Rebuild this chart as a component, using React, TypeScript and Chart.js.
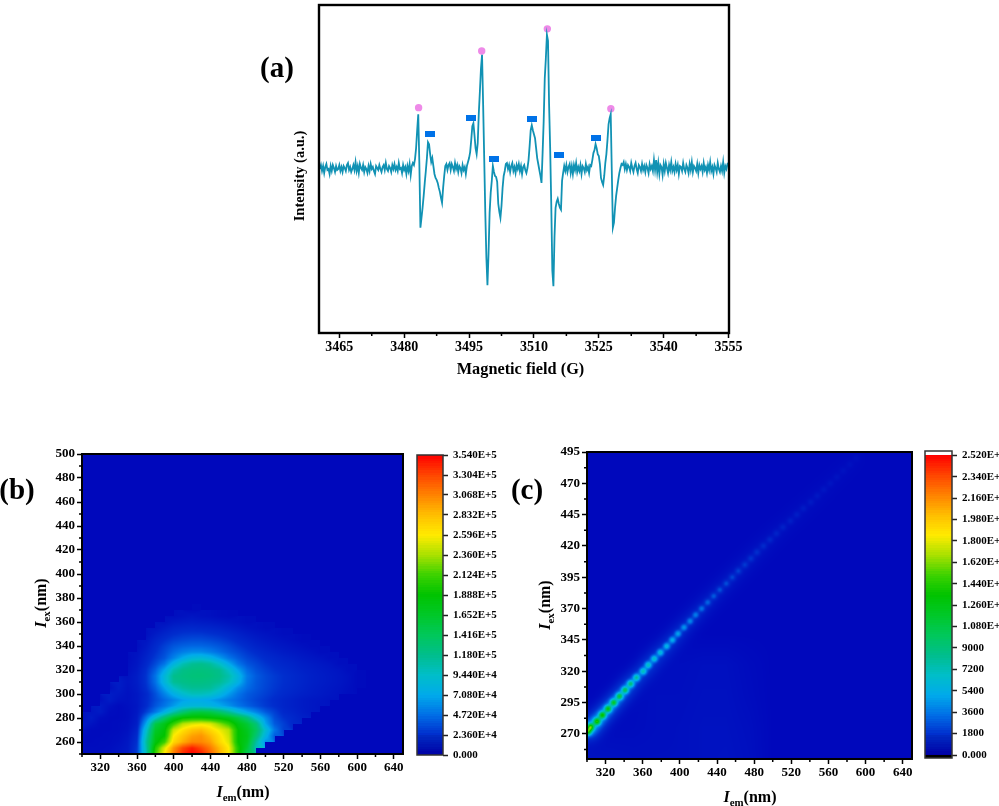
import React, { useEffect, useRef } from "react";
import { Chart, registerables } from "chart.js";

Chart.register(...registerables);

const SERIF = '"Liberation Serif", "Times New Roman", serif';

/* ---------- panel (a): EPR spectrum ---------- */
const fieldStart = 3460.5;
const fieldStep = 0.25;
const intensity = [
  -1, 3, -3, 2, -5, 1, 4, -2, -1, -6,
  2, -3, 3, 0, -4, 2, -2, -1, 3, -3,
  1, -4, 2, 0, -3, 3, 5, -2, 1, -4,
  -1, 3, -2, 6, -3, 2, -5, 4, 0, -2,
  3, -4, 1, -1, -5, 2, -3, 4, -1, 1,
  -3, -6, 2, 0, -2, 3, -1, -4, 1, 3,
  -2, 5, -1, -3, 2, 0, -4, 3, -1, 4,
  -2, 1, -3, 5, -1, 0, -5, 3, -2, 1,
  -6, 2, -3, 4, -7, 2, 5, 3, 9, 20,
  38, 54, 5, -60, -50, -40, -28, -15, -3, 10,
  26, 24, 14, 6, 10, 2, -6, -10, -12, -15,
  -20, -24, -30, -35, -20, -8, 2, 4, -2, 3,
  5, -2, 4, 1, -3, 5, -1, 3, -4, 2,
  0, -5, 3, -2, 1, -6, 2, 6, 10, 16,
  28, 42, 45, 33, 20, 14, 25, 55, 77, 100,
  114, 64, 10, -45, -90, -118, -86, -45, -25, -13,
  2, -4, -8, -9, -14, -36, -44, -50, -38, -20,
  -8, -3, 4, 5, -1, 3, -4, 2, 5, -3,
  1, -5, 3, -1, 4, -3, 2, -6, 1, 3,
  -2, -5, 0, 8, 22, 38, 43, 38, 34, 30,
  20, 10, 4, -2, -8, -15, 15, 47, 90, 110,
  134, 128, 64, 20, -36, -103, -119, -70, -40, -34,
  -31, -36, -40, -42, -13, -5, 2, -3, 3, -4,
  1, 4, -5, 2, -6, 3, -2, 5, -4, 1,
  -3, 3, -6, 2, 0, -4, 4, -2, 1, -5,
  3, 2, 8, 15, 18, 24, 20, 14, 12, 4,
  -10, -14, -17, -8, 5, 14, 28, 44, 50, 54,
  -3, -60, -55, -40, -28, -20, -12, -5, 0, 4,
  3, 6, -1, 4, -2, 3, 1, -3, 5, 0,
  -4, 2, 5, -1, -5, 3, 1, -3, 4, -2,
  2, -4, 3, 0, -5, 4, -1, 2, -3, 8,
  -2, 8, -4, 5, -6, 3, 1, -7, 4, -3,
  5, 0, -5, 3, -2, 6, -3, 1, -4, 4,
  -2, 3, -6, 2, 1, -3, 5, -1, -4, 3,
  0, -5, 4, -2, 6, -4, 2, 0, -3, 4,
  -5, 3, -1, 2, -4, 5, -2, 1, -5, 3,
  -2, 6, -3, 1, -6, 3, 0, -4, 5, -1,
  -4, 2, -3, 6, -5, 2, -1, 4, 5,
];
const circleField = [3483.33, 3497.92, 3513.1, 3527.78];
const circleIntensity = [60.7, 117.7, 140, 59.7];
const squareField = [3485.95, 3495.5, 3500.69, 3509.63, 3515.81, 3524.3];
const squareIntensity = [34.3, 50.3, 8.7, 49, 13.3, 29.7];
const fieldTicks = [3465, 3480, 3495, 3510, 3525, 3540, 3555];
const fieldMinor = [3472.5, 3487.5, 3502.5, 3517.5, 3532.5, 3547.5];

/* ---------- panel (b): excitation-emission map, values in 1E+4 ---------- */
const bEm = [300, 310, 320, 330, 340, 350, 360, 370, 380, 390, 400, 410, 420, 430, 440, 450, 460, 470, 480, 490, 500, 510, 520, 530, 540, 550, 560, 570, 580, 590, 600];
const bEx = [250, 255, 260, 265, 270, 275, 280, 285, 290, 295, 300, 305, 310, 315, 320, 325, 330, 335, 340, 345, 350, 355, 360, 365, 370];
const bGrid = [
  [.3, .3, .4, .5, .8, 1.2, 3, 10, 21, 26, 31, 34, 35.4, 34.5, 32, 29, 26, 20, 14, 0, 0, 0, 0, 0, 0, 0, 0, 0, 0, 0, 0],
  [.3, .3, .3, .4, .7, 1.1, 2.8, 10.5, 20, 25, 30, 33, 34.5, 33, 31, 28.5, 26, 20, 16, 10, 0, 0, 0, 0, 0, 0, 0, 0, 0, 0, 0],
  [.2, .2, .3, .3, .5, 1, 2.5, 11, 18, 21, 27, 29, 30.5, 30.5, 29.5, 27, 25, 19, 17, 11, 6, 0, 0, 0, 0, 0, 0, 0, 0, 0, 0],
  [.2, .2, .2, .3, .4, .8, 2.2, 10, 17.5, 19, 26, 28, 29.5, 30, 28.5, 26.5, 24.5, 19, 17.5, 13, 8, 4, 0, 0, 0, 0, 0, 0, 0, 0, 0],
  [.6, .2, .2, .2, .3, .6, 1.8, 9, 16.5, 18.5, 24.5, 26.5, 28, 28.5, 27, 25.5, 24, 19, 17, 14, 9, 5, 3, 0, 0, 0, 0, 0, 0, 0, 0],
  [1.1, .7, .2, .2, .3, .5, 1.4, 7, 15, 17.5, 21, 24, 25, 25.5, 25, 23, 21, 18, 16, 13, 7, 4, 3, 2, 0, 0, 0, 0, 0, 0, 0],
  [.4, 1.2, .4, .2, .2, .4, 1.2, 5, 9.5, 13.5, 17, 19, 19.5, 19.5, 19, 18.5, 17.5, 15.5, 13, 9, 6, 3.5, 2.5, 2, 1.5, 0, 0, 0, 0, 0, 0],
  [0, .8, 1.2, .3, .2, .4, 1, 3, 5, 7.5, 10.5, 13, 15, 15.5, 15, 13.5, 11.5, 9, 7, 5.5, 4, 3, 2, 1.7, 1.3, 1, 0, 0, 0, 0, 0],
  [0, 0, 1.2, .6, .2, .5, .9, 2.2, 3.8, 5, 6.5, 8, 8.4, 8.4, 8, 7.2, 6.2, 5, 4.2, 3.5, 2.8, 2.3, 1.8, 1.5, 1.2, 1, .8, 0, 0, 0, 0],
  [0, 0, .5, 1.3, .7, .6, 1, 2.1, 3.4, 4.5, 5.6, 6.7, 7.2, 7.2, 6.8, 6, 5.2, 4.5, 3.8, 3.2, 2.7, 2.2, 1.8, 1.5, 1.2, 1, .9, .7, 0, 0, 0],
  [0, 0, 0, 1.3, 1, .6, 1, 2, 3.6, 5.5, 7.5, 9, 10, 10, 9.5, 8.2, 6.5, 5, 4, 3.5, 3, 2.5, 2.1, 1.8, 1.5, 1.3, 1.1, .9, .7, .4, 0],
  [0, 0, 0, .5, 1.3, .7, 1.2, 2.4, 4.2, 6.8, 9.5, 11, 11.5, 11.5, 11.3, 10, 8, 6, 4.6, 3.8, 3.2, 2.7, 2.3, 2, 1.7, 1.4, 1.2, 1, .8, .5, .2],
  [0, 0, 0, 0, 1.3, .8, 1.3, 2.6, 4.8, 8.3, 11.5, 12, 12.3, 12.3, 12, 11.5, 10, 7.8, 5, 3.9, 3.3, 2.8, 2.4, 2.1, 1.8, 1.5, 1.3, 1.1, .9, .6, .2],
  [0, 0, 0, 0, 0, .7, 1.3, 2.6, 4.9, 8.4, 11.8, 12.4, 12.7, 12.8, 12.6, 12, 10.6, 8.2, 5.2, 4, 3.3, 2.8, 2.4, 2.1, 1.8, 1.5, 1.3, 1.1, .9, .6, .2],
  [0, 0, 0, 0, 0, .5, 1.1, 2.4, 4.2, 7, 10.5, 12, 12.4, 12.5, 12.3, 11.7, 9.5, 6.8, 4.6, 3.6, 3, 2.5, 2.2, 1.9, 1.6, 1.4, 1.2, 1, .8, .4, 0],
  [0, 0, 0, 0, 0, .4, .9, 2, 3.4, 5, 8, 10.3, 11.5, 11.8, 11.2, 9.5, 7.2, 5, 3.8, 3.2, 2.6, 2.2, 1.9, 1.7, 1.4, 1.2, 1, .8, .4, 0, 0],
  [0, 0, 0, 0, 0, .3, .8, 1.7, 2.8, 3.8, 5.5, 7.2, 8.5, 8.8, 8, 6.5, 5, 4, 3.2, 2.7, 2.2, 1.9, 1.6, 1.4, 1.1, .9, .7, .4, 0, 0, 0],
  [0, 0, 0, 0, 0, 0, .6, 1.4, 2.4, 3.4, 4.5, 5.3, 5.8, 5.8, 5.3, 4.6, 3.9, 3.3, 2.7, 2.2, 1.8, 1.5, 1.2, 1, .8, .6, .3, 0, 0, 0, 0],
  [0, 0, 0, 0, 0, 0, .4, 1.1, 2.1, 3, 3.8, 4.2, 4.4, 4.4, 4.2, 3.8, 3.3, 2.7, 2.2, 1.7, 1.4, 1.1, .9, .7, .5, .3, 0, 0, 0, 0, 0],
  [0, 0, 0, 0, 0, 0, 0, .8, 1.7, 2.4, 3, 3.3, 3.5, 3.5, 3.3, 3, 2.6, 2.1, 1.7, 1.3, 1, .8, .6, .4, .2, 0, 0, 0, 0, 0, 0],
  [0, 0, 0, 0, 0, 0, 0, .5, 1.2, 1.8, 2.3, 2.6, 2.7, 2.7, 2.5, 2.3, 2, 1.6, 1.2, .9, .7, .5, .3, 0, 0, 0, 0, 0, 0, 0, 0],
  [0, 0, 0, 0, 0, 0, 0, 0, .7, 1.2, 1.7, 1.9, 2, 1.9, 1.8, 1.6, 1.3, 1, .7, .5, .3, 0, 0, 0, 0, 0, 0, 0, 0, 0, 0],
  [0, 0, 0, 0, 0, 0, 0, 0, 0, .6, 1, 1.2, 1.3, 1.2, 1.1, .9, .7, .5, .3, 0, 0, 0, 0, 0, 0, 0, 0, 0, 0, 0, 0],
  [0, 0, 0, 0, 0, 0, 0, 0, 0, 0, .4, .6, .8, .6, .5, .3, .2, 0, 0, 0, 0, 0, 0, 0, 0, 0, 0, 0, 0, 0, 0],
  [0, 0, 0, 0, 0, 0, 0, 0, 0, 0, 0, 0, .2, 0, 0, 0, 0, 0, 0, 0, 0, 0, 0, 0, 0, 0, 0, 0, 0, 0, 0],
];
const bGridUnit = 10000;
const bScaleMax = 354000;
const bEmTicks = [320, 360, 400, 440, 480, 520, 560, 600, 640];
const bEmMinor = [300, 340, 380, 420, 460, 500, 540, 580, 620];
const bExTicks = [260, 280, 300, 320, 340, 360, 380, 400, 420, 440, 460, 480, 500];
const bExMinor = [250, 270, 290, 310, 330, 350, 370, 390, 410, 430, 450, 470, 490];
const bBarValues = [0, 23600, 47200, 70800, 94400, 118000, 141600, 165200, 188800, 212400, 236000, 259600, 283200, 306800, 330400, 354000];
const bBarLabels = ["0.000", "2.360E+4", "4.720E+4", "7.080E+4", "9.440E+4", "1.180E+5", "1.416E+5", "1.652E+5", "1.888E+5", "2.124E+5", "2.360E+5", "2.596E+5", "2.832E+5", "3.068E+5", "3.304E+5", "3.540E+5"];

/* ---------- panel (c): scatter ridge and faint ground ---------- */
const cRidgeEm = [301, 304, 310.8, 316.6, 322.7, 328.8, 335, 341, 347, 353.3, 360.5, 366, 372.4, 379, 385.8, 392, 398, 404.5, 411, 417, 423.5, 430, 436.5, 443, 450, 456.5, 463, 470, 476.5, 483, 490, 497, 504, 511, 519, 526, 533, 541, 548, 555, 562, 569, 576, 583, 590];
const cRidgeEx = [272, 275.5, 280, 285, 290, 295, 300, 305, 310, 315, 320, 325, 330, 335, 340, 345, 350, 355, 360, 365, 370, 375, 380, 385, 390, 395, 400, 405, 410, 415, 420, 425, 430, 435, 440, 445, 450, 455, 460, 465, 470, 475, 480, 485, 490];
const cRidgeI = [14000, 14500, 14000, 13500, 12500, 11800, 11000, 10000, 9000, 7800, 7000, 6600, 6300, 5900, 5500, 5200, 4800, 4400, 4000, 3700, 3400, 3100, 2800, 2600, 2500, 2300, 2200, 2000, 1800, 1700, 1500, 1350, 1200, 1100, 1000, 950, 850, 800, 700, 620, 560, 500, 450, 400, 350];
const cGroundEm = [300, 325, 350, 375, 400, 425, 450, 475, 500];
const cGroundEx = [250, 275, 300, 325, 350];
const cGround = [
  [500, 450, 350, 350, 350, 450, 500, 350, 0],
  [150, 150, 200, 300, 350, 450, 450, 300, 0],
  [0, 0, 150, 300, 300, 400, 400, 200, 0],
  [0, 0, 0, 200, 250, 350, 350, 150, 0],
  [0, 0, 0, 0, 0, 0, 0, 0, 0],
];
const cScaleMax = 25200;
const cEmTicks = bEmTicks;
const cEmMinor = bEmMinor;
const cExTicks = [270, 295, 320, 345, 370, 395, 420, 445, 470, 495];
const cExMinor = [257.5, 282.5, 307.5, 332.5, 357.5, 382.5, 407.5, 432.5, 457.5, 482.5];
const cBarValues = [0, 1800, 3600, 5400, 7200, 9000, 10800, 12600, 14400, 16200, 18000, 19800, 21600, 23400, 25200];
const cBarLabels = ["0.000", "1800", "3600", "5400", "7200", "9000", "1.080E+4", "1.260E+4", "1.440E+4", "1.620E+4", "1.800E+4", "1.980E+4", "2.160E+4", "2.340E+4", "2.520E+4"];

/* ---------- shared colour scale ---------- */
const colorStops: [number, number, number, number][] = [
  [0, 0, 8, 188], [0.067, 0, 45, 205], [0.133, 0, 110, 230], [0.2, 0, 170, 235], [0.267, 0, 190, 200],
  [0.333, 0, 190, 140], [0.4, 0, 200, 90], [0.467, 0, 200, 40], [0.533, 0, 195, 0], [0.6, 60, 210, 0],
  [0.667, 170, 225, 0], [0.733, 255, 235, 0], [0.8, 255, 190, 0], [0.867, 255, 130, 0], [0.933, 255, 70, 0], [1, 255, 0, 0],
];

function colorAt(t: number): [number, number, number] {
  if (t <= 0) return [colorStops[0][1], colorStops[0][2], colorStops[0][3]];
  if (t >= 1) return [255, 0, 0];
  for (let i = 1; i < colorStops.length; i++) {
    const b = colorStops[i];
    if (t <= b[0]) {
      const a = colorStops[i - 1];
      const f = (t - a[0]) / (b[0] - a[0]);
      return [a[1] + (b[1] - a[1]) * f, a[2] + (b[2] - a[2]) * f, a[3] + (b[3] - a[3]) * f];
    }
  }
  return [255, 0, 0];
}

/* ---------- plugins ---------- */
const framePlugin = {
  id: "frame",
  afterDraw(chart: any, _a: any, opts: any) {
    const { ctx, chartArea: ca, scales } = chart;
    ctx.save();
    ctx.strokeStyle = "#000";
    ctx.lineWidth = 1.5;
    ctx.beginPath();
    (opts.minorX || []).forEach((v: number) => {
      const x = scales.x.getPixelForValue(v);
      ctx.moveTo(x, ca.bottom);
      ctx.lineTo(x, ca.bottom + (opts.minorLen || 3));
    });
    (opts.minorY || []).forEach((v: number) => {
      const y = scales.y.getPixelForValue(v);
      ctx.moveTo(ca.left, y);
      ctx.lineTo(ca.left - (opts.minorLen || 3), y);
    });
    ctx.stroke();
    ctx.strokeStyle = opts.color || "#000";
    ctx.lineWidth = opts.width || 2;
    ctx.strokeRect(ca.left, ca.top, ca.right - ca.left, ca.bottom - ca.top);
    ctx.restore();
  },
};

function paint(chart: any, pixel: (px: number, py: number) => [number, number, number]) {
  const { ctx, chartArea: ca } = chart;
  const w = Math.round(ca.right - ca.left);
  const h = Math.round(ca.bottom - ca.top);
  const img = ctx.createImageData(w, h);
  for (let j = 0; j < h; j++) {
    for (let i = 0; i < w; i++) {
      const c = pixel(ca.left + i + 0.5, ca.top + j + 0.5);
      const k = (j * w + i) * 4;
      img.data[k] = c[0];
      img.data[k + 1] = c[1];
      img.data[k + 2] = c[2];
      img.data[k + 3] = 255;
    }
  }
  ctx.putImageData(img, Math.round(ca.left), Math.round(ca.top));
}

/* grid sampled through the chart's scales: floor cell decides the mask, non-empty corners are blended */
function sampleGrid(grid: number[][], xs: number[], ys: number[], x: number, y: number, masked: boolean) {
  const fx = (x - xs[0]) / (xs[1] - xs[0]);
  const fy = (y - ys[0]) / (ys[1] - ys[0]);
  const i = Math.floor(fx);
  const j = Math.floor(fy);
  if (i < 0 || j < 0 || i >= xs.length || j >= ys.length) return 0;
  if (masked && !grid[j][i]) return 0;
  const u = fx - i;
  const v = fy - j;
  const corners: [number, number, number][] = [
    [i, j, (1 - u) * (1 - v)], [i + 1, j, u * (1 - v)], [i, j + 1, (1 - u) * v], [i + 1, j + 1, u * v],
  ];
  let sum = 0;
  let wt = 0;
  for (const [a, b, w] of corners) {
    const val = (grid[b] && grid[b][a]) || 0;
    if (val || !masked) {
      sum += val * w;
      wt += w;
    }
  }
  return wt ? sum / wt : 0;
}

const heatB = {
  id: "heatB",
  beforeDatasetsDraw(chart: any) {
    const { x, y } = chart.scales;
    paint(chart, (px, py) => {
      const v = sampleGrid(bGrid, bEm, bEx, x.getValueForPixel(px), y.getValueForPixel(py), true);
      return colorAt((v * bGridUnit) / bScaleMax);
    });
  },
};

const heatC = {
  id: "heatC",
  beforeDatasetsDraw(chart: any) {
    const { x, y } = chart.scales;
    const pts = chart.data.datasets[0].data.map((d: any) => ({
      px: x.getPixelForValue(d.x),
      py: y.getPixelForValue(d.y),
      v: d.v,
    }));
    paint(chart, (px, py) => {
      const em = x.getValueForPixel(px);
      const ex = y.getValueForPixel(py);
      let v = sampleGrid(cGround, cGroundEm, cGroundEx, em, ex, false);
      for (const p of pts) {
        const d2 = (p.px - px) ** 2 + (p.py - py) ** 2;
        if (d2 > 600) continue;
        v += p.v * (0.72 * Math.exp(-d2 / 12) + 0.13 * Math.exp(-d2 / 100));
      }
      return colorAt(v / cScaleMax);
    });
  },
};

const barPlugin = (scaleMax: number) => ({
  id: "colorBar",
  beforeDatasetsDraw(chart: any) {
    const { y } = chart.scales;
    paint(chart, (_px, py) => {
      const v = y.getValueForPixel(py);
      if (v > scaleMax) return [255, 255, 255];
      if (v < 0) return [0, 0, 0];
      const t = Math.round((v / scaleMax) * 128) / 128;
      if (t < 0.067) return [0, (t / 0.067) * 45, 165 + (t / 0.067) * 30];
      return colorAt(t);
    });
  },
});

/* ---------- config helpers ---------- */
const tickFont = (size: number) => ({ family: SERIF, weight: "bold" as const, size, lineHeight: 1 });

function axis(values: number[], size: number, extra: any) {
  return {
    type: "linear",
    afterBuildTicks: (s: any) => {
      s.ticks = values.map((value) => ({ value }));
    },
    grid: { drawOnChartArea: false, drawTicks: true, tickLength: 5, tickWidth: 1.5, tickColor: "#000" },
    border: { display: false },
    ticks: { color: "#000", font: tickFont(size), autoSkip: false, maxRotation: 0, padding: 2, callback: (v: number) => String(v) },
    ...extra,
  };
}

const basePlugins = { legend: { display: false }, tooltip: { enabled: false } };

function spectrumConfig() {
  const squareImg = document.createElement("canvas");
  squareImg.width = 10;
  squareImg.height = 6;
  const sc = squareImg.getContext("2d")!;
  sc.fillStyle = "#0072e8";
  sc.fillRect(0, 0, 10, 6);
  return {
    type: "line",
    data: {
      datasets: [
        {
          data: intensity.map((v, i) => ({ x: fieldStart + i * fieldStep, y: v })),
          borderColor: "#1192b4",
          borderWidth: 1.8,
          pointRadius: 0,
          tension: 0,
        },
        {
          showLine: false,
          data: circleField.map((x, i) => ({ x, y: circleIntensity[i] })),
          pointStyle: "circle",
          pointRadius: 3.7,
          backgroundColor: "#ee8ae8",
          borderWidth: 0,
        },
        {
          showLine: false,
          data: squareField.map((x, i) => ({ x, y: squareIntensity[i] })),
          pointStyle: squareImg,
          backgroundColor: "#0072e8",
        },
      ],
    },
    options: {
      animation: false,
      responsive: false,
      devicePixelRatio: 1,
      layout: { padding: { left: 0, top: 3, right: 31, bottom: 0 } },
      plugins: { ...basePlugins, frame: { minorX: fieldMinor, width: 2.4 } },
      scales: {
        x: axis(fieldTicks, 14, {
          min: 3460.3,
          max: 3555.1,
          afterFit: (s: any) => {
            s.height = 67;
          },
        }),
        y: {
          type: "linear",
          min: -166,
          max: 164,
          afterFit: (s: any) => {
            s.width = 69;
          },
          grid: { display: false },
          border: { display: false },
          ticks: { display: false },
        },
      },
    },
    plugins: [framePlugin],
  };
}

function heatConfig(o: any) {
  return {
    type: "scatter",
    data: { datasets: [{ data: o.points, pointRadius: 0 }] },
    options: {
      animation: false,
      responsive: false,
      devicePixelRatio: 1,
      layout: { padding: o.padding },
      plugins: { ...basePlugins, frame: { minorX: o.minorX, minorY: o.minorY, width: 2 } },
      scales: {
        x: axis(o.xTicks, 13, {
          min: 300,
          max: 650,
          afterFit: (s: any) => {
            s.height = o.bottom;
          },
        }),
        y: axis(o.yTicks, 13, {
          min: 250,
          max: o.yMax,
          afterFit: (s: any) => {
            s.width = o.left;
          },
        }),
      },
    },
    plugins: [o.plugin, framePlugin],
  };
}

function colorBarConfig(o: any) {
  return {
    type: "scatter",
    data: { datasets: [{ data: o.values.map((v: number) => ({ x: 0, y: v })), pointRadius: 0 }] },
    options: {
      animation: false,
      responsive: false,
      devicePixelRatio: 1,
      layout: { padding: o.padding },
      plugins: { ...basePlugins, frame: { width: 1.5, color: "#333" } },
      scales: {
        x: { type: "linear", display: false, min: 0, max: 1 },
        y: axis(o.values, 11, {
          position: "right",
          min: o.min,
          max: o.max,
          afterFit: (s: any) => {
            s.width = o.axisWidth;
          },
          grid: { drawOnChartArea: false, drawTicks: true, tickLength: 5, tickWidth: 1.5, tickColor: "#222" },
          ticks: {
            color: "#000",
            font: tickFont(11),
            autoSkip: false,
            maxRotation: 0,
            padding: 5,
            callback: (v: number) => {
              const k = o.values.indexOf(v);
              return k >= 0 ? o.labels[k] : "";
            },
          },
        }),
      },
    },
    plugins: [barPlugin(o.scaleMax), framePlugin],
  };
}

/* ---------- components ---------- */
function ChartCanvas({ left, top, width, height, build }: any) {
  const ref = useRef<HTMLCanvasElement>(null);
  useEffect(() => {
    const chart = new Chart(ref.current as any, build());
    return () => chart.destroy();
  }, []);
  return (
    <canvas
      ref={ref}
      width={width}
      height={height}
      style={{ position: "absolute", left, top, width, height, display: "block" }}
    />
  );
}

function Label({ x, y, size = 16, rotate = false, children }: any) {
  return (
    <div
      style={{
        position: "absolute",
        left: x,
        top: y,
        transform: `translate(-50%, -50%)${rotate ? " rotate(-90deg)" : ""}`,
        fontFamily: SERIF,
        fontWeight: "bold",
        fontSize: size,
        lineHeight: 1,
        whiteSpace: "nowrap",
        color: "#000",
      }}
    >
      {children}
    </div>
  );
}

function Sym({ sub }: { sub: string }) {
  return (
    <>
      <i>I</i>
      <sub style={{ fontSize: "0.68em", lineHeight: 0 }}>{sub}</sub>(nm)
    </>
  );
}

const bPoints = bGrid.flatMap((row, j) => row.map((v, i) => ({ x: bEm[i], y: bEx[j], v })));
const cPoints = cRidgeI.map((v, i) => ({ x: cRidgeEm[i], y: cRidgeEx[i], v }));

export default function App() {
  return (
    <div
      style={{
        position: "absolute",
        left: 0,
        top: 0,
        width: 999,
        height: 806,
        overflow: "hidden",
        background: "#fff",
        filter: "blur(0.4px)",
      }}
    >
      <ChartCanvas left={250} top={0} width={510} height={400} build={spectrumConfig} />
      <ChartCanvas
        left={30}
        top={440}
        width={385}
        height={350}
        build={() =>
          heatConfig({
            points: bPoints,
            padding: { left: 0, top: 14, right: 12, bottom: 0 },
            left: 52,
            bottom: 36,
            xTicks: bEmTicks,
            yTicks: bExTicks,
            minorX: bEmMinor,
            minorY: bExMinor,
            yMax: 500,
            plugin: heatB,
          })
        }
      />
      <ChartCanvas
        left={535}
        top={440}
        width={385}
        height={355}
        build={() =>
          heatConfig({
            points: cPoints,
            padding: { left: 0, top: 12, right: 8, bottom: 0 },
            left: 52,
            bottom: 36,
            xTicks: cEmTicks,
            yTicks: cExTicks,
            minorX: cEmMinor,
            minorY: cExMinor,
            yMax: 495,
            plugin: heatC,
          })
        }
      />
      <ChartCanvas
        left={410}
        top={440}
        width={110}
        height={330}
        build={() =>
          colorBarConfig({
            values: bBarValues,
            labels: bBarLabels,
            padding: { left: 7, top: 15, right: 0, bottom: 15 },
            axisWidth: 77,
            min: 0,
            max: bScaleMax,
            scaleMax: bScaleMax,
          })
        }
      />
      <ChartCanvas
        left={918}
        top={440}
        width={81}
        height={330}
        build={() =>
          colorBarConfig({
            values: cBarValues,
            labels: cBarLabels,
            padding: { left: 7, top: 11, right: 0, bottom: 12 },
            axisWidth: 47,
            min: -252,
            max: 25561,
            scaleMax: cScaleMax,
          })
        }
      />
      <Label x={277} y={67} size={29}>(a)</Label>
      <Label x={17} y={489} size={29}>(b)</Label>
      <Label x={527} y={489} size={29}>(c)</Label>
      <Label x={299} y={176} size={14.5} rotate>Intensity (a.u.)</Label>
      <Label x={520.5} y={369} size={16.3}>Magnetic field (G)</Label>
      <Label x={41} y={603} rotate><Sym sub="ex" /></Label>
      <Label x={243} y={792}><Sym sub="em" /></Label>
      <Label x={545} y={605} rotate><Sym sub="ex" /></Label>
      <Label x={750} y={797}><Sym sub="em" /></Label>
    </div>
  );
}
